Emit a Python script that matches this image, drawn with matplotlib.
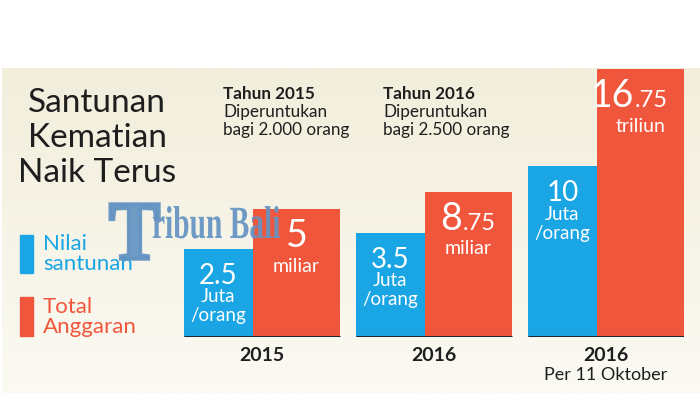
import numpy as np
import matplotlib
matplotlib.use("Agg")
import matplotlib.pyplot as plt
from matplotlib.textpath import TextPath
from matplotlib.patches import PathPatch
from matplotlib.font_manager import FontProperties
from matplotlib.transforms import Affine2D

groups      = ["2015", "2016", "2016"]
group_notes = ["", "", "Per 11 Oktober"]
# bar heights as drawn (panel units, 0 = baseline, 269 = top of panel)
blue_height = [88, 104, 171]
red_height  = [128, 145, 268]
blue_value  = ["2.5", "3.5", "10"]
red_int     = ["5", "8", "16"]
red_frac    = ["", ".75", ".75"]
red_unit    = ["miliar", "miliar", "triliun"]
blue_unit   = ["Juta", "/orang"]
notes_head  = ["Tahun 2015", "Tahun 2016"]
notes_body  = [["Diperuntukan", "bagi 2.000 orang"],
               ["Diperuntukan", "bagi 2.500 orang"]]
title_lines = ["Santunan", "Kematian", "Naik Terus"]

BLUE = "#1aa5e4"
RED = "#f0563c"
INK = "#1e1e1e"
FONT = "Lato"

W, H = 700, 393
fig = plt.figure(figsize=(W / 100, H / 100), dpi=100)

# background canvas in pixel coords (layout only)
bg = fig.add_axes([0, 0, 1, 1])
bg.axis("off")
grad = np.linspace(0, 1, 200)[:, None]
top_c = np.array([242, 238, 220]) / 255
bot_c = np.array([251, 250, 243]) / 255
img = top_c + (bot_c - top_c) * grad[..., None]
img = np.repeat(img, 2, axis=1)
bg.imshow(img, extent=[2, W, H, 68], aspect="auto", zorder=0)
bg.set_xlim(0, W); bg.set_ylim(H, 0)

# ---------------- bars ----------------
px_l, px_r, px_b, px_t = 184, 684, 337, 68
ax = fig.add_axes([px_l / W, (H - px_b) / H, (px_r - px_l) / W, (px_b - px_t) / H])
ax.set_xlim(0, (px_r - px_l) / 172)
ax.set_ylim(0, px_b - px_t)
ax.axis("off")
ax.patch.set_alpha(0)

bw, rw = 69 / 172, 87 / 172
x = np.arange(len(groups))
ax.bar(x, blue_height, width=bw, align="edge", color=BLUE, zorder=2)
ax.bar(x + bw, red_height, width=rw, align="edge", color=RED, zorder=1)
ax.hlines([0] * len(x), x, x + bw + rw, color="#1c2733", lw=2.2, zorder=3)

# ---------------- title + legend ----------------
for k, line in enumerate(title_lines):
    bg.text(97, 103 + k * 35, line, ha="center", va="center",
            fontsize=24, family=FONT, color=INK, zorder=5)

bg.add_patch(plt.Rectangle((20, 235), 13, 38, color=BLUE, zorder=5))
bg.add_patch(plt.Rectangle((20, 297), 13, 39, color=RED, zorder=5))
for txt, yy, col in [("Nilai", 244, BLUE), ("santunan", 264, BLUE),
                     ("Total", 307, RED), ("Anggaran", 327, RED)]:
    bg.text(43, yy, txt, ha="left", va="center", fontsize=16,
            family=FONT, color=col, zorder=5)

# notes above bars
for nx, head, body in zip([223, 383], notes_head, notes_body):
    bg.text(nx, 99, head, ha="left", va="baseline", fontsize=12.3,
            family=FONT, weight="bold", color=INK, zorder=5)
    for k, line in enumerate(body):
        bg.text(nx, 117 + k * 17.5, line, ha="left", va="baseline",
                fontsize=12.3, family=FONT, color=INK, zorder=5)

# ---------------- labels inside bars ----------------
for i in range(len(groups)):
    bx = x[i] + bw / 2
    btop = blue_height[i]
    ax.text(bx, btop - 14, blue_value[i], ha="center", va="top", fontsize=20,
            family=FONT, color="white", zorder=5)
    for k, line in enumerate(blue_unit):
        ax.text(bx, btop - 48 - k * 19, line, ha="center", va="center",
                fontsize=13.5, family=FONT, color="white", zorder=5)

    rx = x[i] + bw + rw / 2
    rtop = red_height[i]
    if red_frac[i]:
        split = rx - 0.035
        ax.text(split, rtop - 38, red_int[i], ha="right", va="baseline",
                fontsize=27, family=FONT, color="white", zorder=5)
        ax.text(split, rtop - 38, red_frac[i], ha="left", va="baseline",
                fontsize=17, family=FONT, color="white", zorder=5)
    else:
        ax.text(rx, rtop - 38, red_int[i], ha="center", va="baseline",
                fontsize=27, family=FONT, color="white", zorder=5)
    ax.text(rx, rtop - 57, red_unit[i], ha="center", va="center", fontsize=14,
            family=FONT, color="white", zorder=5)

    # group labels below baseline
    gx = x[i] + (bw + rw) / 2
    ax.text(gx, -10, groups[i], ha="center", va="top", fontsize=14,
            family=FONT, weight="bold", color=INK, clip_on=False)
    if group_notes[i]:
        ax.text(gx, -30, group_notes[i], ha="center", va="top", fontsize=13,
                family=FONT, color=INK, clip_on=False)

# watermark (condensed serif, squeezed into the box it takes in the picture)
wm_prop = FontProperties(family="Liberation Serif", weight="bold")
WM = "#6393c2"
def watermark(s, x0, x1, y_top, y_base, y_bottom=None, lw=0.0):
    tp = TextPath((0, 0), s, size=1, prop=wm_prop)
    v = tp.vertices
    xmin, xmax = v[:, 0].min(), v[:, 0].max()
    ymin, ymax = v[:, 1].min(), v[:, 1].max()
    sx = (x1 - x0) / (xmax - xmin)
    if y_bottom is None:
        sy = (y_base - y_top) / ymax
        tr = Affine2D().translate(-xmin, 0).scale(sx, -sy).translate(x0, y_base)
    else:
        sy = (y_bottom - y_top) / (ymax - ymin)
        tr = Affine2D().translate(-xmin, -ymin).scale(sx, -sy).translate(x0, y_bottom)
    patch = PathPatch(tp, facecolor=WM, edgecolor=WM if lw else "none",
                      linewidth=lw, alpha=0.92,
                      transform=tr + bg.transData, zorder=10)
    fig.add_artist(patch)

watermark("T", 109, 159, 204, None, 259, lw=2.5)
watermark("ribun Bali", 152, 280, 206, 238)

fig.savefig("out.png", dpi=100)
